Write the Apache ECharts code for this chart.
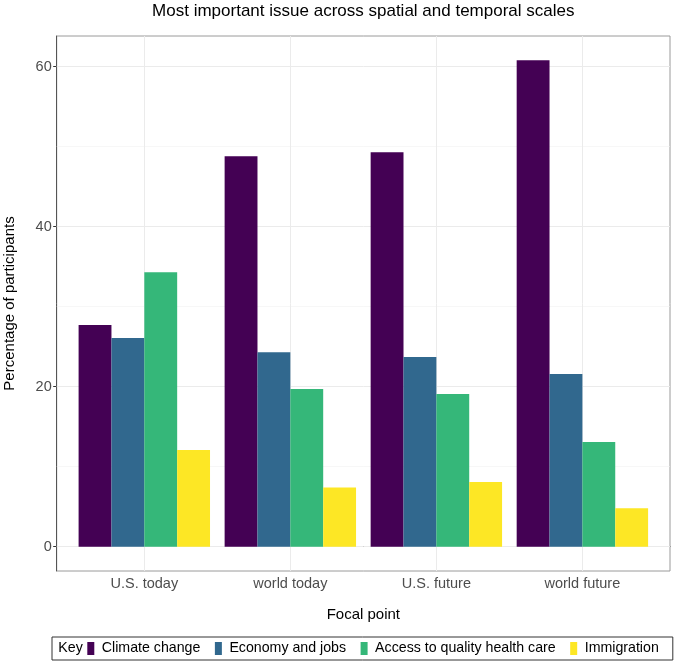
<!DOCTYPE html>
<html>
<head>
<meta charset="utf-8">
<script src="https://cdn.jsdelivr.net/npm/echarts@6/dist/echarts.min.js"></script>
<style>html,body{margin:0;padding:0;background:#fff;}#chart{width:677px;height:663px;}</style>
</head>
<body>
<div id="chart"></div>
<script>
const categories = ['U.S. today', 'world today', 'U.S. future', 'world future'];
const seriesNames = ['Climate change', 'Economy and jobs', 'Access to quality health care', 'Immigration'];
const climateChange = [27.7, 48.8, 49.3, 60.8];
const economyJobs = [26.1, 24.3, 23.7, 21.6];
const healthCare = [34.3, 19.7, 19.1, 13.1];
const immigration = [12.1, 7.4, 8.1, 4.8];
const yTickLabels = [0, 20, 40, 60];
const yMinorGrid = [10, 30, 50];
const colors = ['#440154', '#31688E', '#35B779', '#FDE725'];

const seriesValues = [climateChange, economyJobs, healthCare, immigration];
const yMin = -3.04, yMax = 63.84;
const FONT = 'Liberation Sans, Arial, sans-serif';

const chart = echarts.init(document.getElementById('chart'), null, {renderer: 'canvas'});

const barSeries = seriesNames.map((n, i) => ({
  name: n, type: 'bar', xAxisIndex: 1, yAxisIndex: 1,
  data: seriesValues[i], barGap: '0%', barCategoryGap: '10%',
  itemStyle: {color: colors[i]}, z: 10, silent: true
}));

const option = {
  animation: false,
  backgroundColor: '#fff',
  title: {
    text: 'Most important issue across spatial and temporal scales',
    left: 363.3, top: 3, textAlign: 'center', padding: 0,
    textStyle: {fontFamily: FONT, fontSize: 17, fontWeight: 'normal', color: '#000'}
  },
  grid: [
    {left: 56.7, top: 36, width: 613.3, height: 535, show: true, borderColor: '#9a9a9a', borderWidth: 1,
     backgroundColor: 'transparent', outerBoundsMode: 'none', containLabel: false},
    {left: 71.3, top: 36, width: 584.1, height: 535, outerBoundsMode: 'none', containLabel: false}
  ],
  xAxis: [
    {type: 'value', gridIndex: 0, min: 0, max: 1, axisLine: {show: true, lineStyle: {color: '#555', width: 1}},
     axisTick: {show: false}, axisLabel: {show: false}, splitLine: {show: false}},
    {type: 'category', gridIndex: 1, data: categories,
     name: 'Focal point', nameLocation: 'middle', nameGap: 36,
     nameTextStyle: {fontFamily: FONT, fontSize: 15, color: '#000'},
     axisLine: {show: false},
     axisTick: {show: true, alignWithLabel: true, length: 3.5, lineStyle: {color: '#333'}},
     axisLabel: {fontFamily: FONT, fontSize: 14.5, color: '#4d4d4d', margin: 5},
     splitLine: {show: false}}
  ],
  yAxis: [
    {type: 'value', gridIndex: 0, min: yMin, max: yMax,
     name: 'Percentage of participants', nameLocation: 'middle', nameGap: 39, nameRotate: 90,
     nameTextStyle: {fontFamily: FONT, fontSize: 15, color: '#000'},
     axisLine: {show: true, lineStyle: {color: '#555', width: 1}},
     axisTick: {show: true, length: 3.5, customValues: yTickLabels, lineStyle: {color: '#333'}},
     axisLabel: {fontFamily: FONT, fontSize: 14.5, color: '#4d4d4d', margin: 5, customValues: yTickLabels},
     splitLine: {show: false}},
    {type: 'value', gridIndex: 1, min: yMin, max: yMax, show: false, splitLine: {show: false}}
  ],
  legend: {
    data: seriesNames,
    left: 52, top: 637, width: 581.7,
    padding: [4.5, 14, 4.5, 35.3],
    borderColor: '#333', borderWidth: 1,
    itemWidth: 7, itemHeight: 13, itemGap: 14.5,
    icon: 'rect',
    textStyle: {fontFamily: FONT, fontSize: 14.2, color: '#000', padding: [0, 0, 0, 2.5]},
    selectedMode: false
  },
  graphic: [
    {type: 'text', left: 58.3, top: 641, style: {text: 'Key', font: '14.2px ' + FONT, fill: '#000'}}
  ],
  series: [
    {type: 'line', xAxisIndex: 0, yAxisIndex: 0, data: [], silent: true, z: 1,
     markLine: {silent: true, symbol: 'none', z: 1, label: {show: false}, animation: false,
       data: yTickLabels.map(v => ({yAxis: v, lineStyle: {color: '#ebebeb', width: 1, type: 'solid'}}))
         .concat(yMinorGrid.map(v => ({yAxis: v, lineStyle: {color: '#f2f2f2', width: 0.6, type: 'solid'}})))}},
    {type: 'line', xAxisIndex: 1, yAxisIndex: 1, data: [], silent: true, z: 1,
     markLine: {silent: true, symbol: 'none', z: 1, label: {show: false}, animation: false,
       data: categories.map(c => ({xAxis: c, lineStyle: {color: '#ebebeb', width: 1, type: 'solid'}}))}}
  ].concat(barSeries)
};
chart.setOption(option);
</script>
</body>
</html>
